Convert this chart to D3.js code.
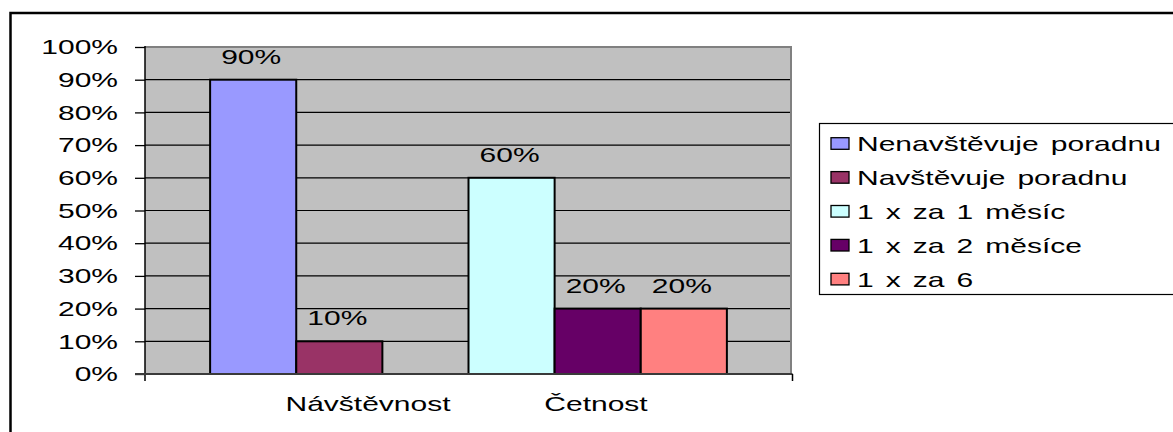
<!DOCTYPE html>
<html>
<head>
<meta charset="utf-8">
<script src="https://cdn.jsdelivr.net/npm/d3@7"></script>
<style>
  html, body { margin: 0; padding: 0; background: #fff; }
  svg { display: block; }
  text { font-family: "Liberation Sans", Arial, sans-serif; fill: #000; }
</style>
</head>
<body>
<svg id="chart" width="1173" height="432"></svg>
<script>
// Categories on the x axis
const categories = ["Návštěvnost", "Četnost"];
// One series per legend entry
const seriesNames = ["Nenavštěvuje poradnu", "Navštěvuje poradnu", "1 x za 1 měsíc", "1 x za 2 měsíce", "1 x za 6"];
// Value of each series (share of respondents)
const seriesValues = [0.9, 0.1, 0.6, 0.2, 0.2];
// Category each series belongs to
const seriesCategory = [0, 0, 1, 1, 1];
// Series fill colours
const seriesColors = ["#9999FF", "#993366", "#CCFFFF", "#660066", "#FF8080"];
// Y axis ticks
const yTicks = [0, 0.1, 0.2, 0.3, 0.4, 0.5, 0.6, 0.7, 0.8, 0.9, 1.0];

const SX = 1.5;       // horizontal text stretch
const FS = 20;        // font size
const fmt = d3.format(".0%");

const svg = d3.select("#chart");

// outer chart frame
svg.append("rect")
  .attr("x", 10.5).attr("y", 13).attr("width", 1300).attr("height", 600)
  .attr("fill", "#fff").attr("stroke", "#000").attr("stroke-width", 2.5);

const plot = { left: 145, right: 792, top: 47, bottom: 374 };

const y = d3.scaleLinear().domain([0, 1]).range([plot.bottom, plot.top]);

// three bar slots per category
const slotsPerCat = 3;
const slotIds = d3.range(categories.length * slotsPerCat);
const x = d3.scaleBand().domain(slotIds).range([plot.left, plot.right])
  .paddingInner(0).paddingOuter(0.756);

const within = seriesCategory.map((c, i) => seriesCategory.slice(0, i).filter(v => v === c).length);
const bars = seriesNames.map((name, i) => ({
  name, value: seriesValues[i], color: seriesColors[i],
  slot: seriesCategory[i] * slotsPerCat + within[i]
}));

// plot area background
svg.append("rect")
  .attr("x", plot.left).attr("y", plot.top)
  .attr("width", plot.right - plot.left).attr("height", plot.bottom - plot.top)
  .attr("fill", "#C0C0C0");

// gridlines
svg.append("g").selectAll("line").data(yTicks.filter(t => t > 0 && t < 1)).join("line")
  .attr("x1", plot.left).attr("x2", plot.right)
  .attr("y1", d => y(d)).attr("y2", d => y(d))
  .attr("stroke", "#000").attr("stroke-width", 1.2);

// plot area border (top and right)
svg.append("path")
  .attr("d", `M${plot.left},${y(1)}H${plot.right - 1}V${plot.bottom}`)
  .attr("fill", "none").attr("stroke", "#808080").attr("stroke-width", 2);

// bars
svg.append("g").selectAll("rect").data(bars).join("rect")
  .attr("x", d => x(d.slot)).attr("width", x.bandwidth())
  .attr("y", d => y(d.value)).attr("height", d => y(0) - y(d.value))
  .attr("fill", d => d.color).attr("stroke", "#000").attr("stroke-width", 2);

// y axis
const yAxis = svg.append("g").attr("transform", `translate(${plot.left},0)`)
  .call(d3.axisLeft(y).tickValues(yTicks).tickSize(10).tickFormat(""));
yAxis.select(".domain").remove();
yAxis.selectAll(".tick line").attr("stroke", "#000").attr("stroke-width", 1.3);
svg.append("line")
  .attr("x1", plot.left).attr("x2", plot.left)
  .attr("y1", plot.top - 1).attr("y2", plot.bottom + 7)
  .attr("stroke", "#000").attr("stroke-width", 1.5);

svg.append("g").selectAll("text").data(yTicks).join("text")
  .attr("transform", d => `translate(118,${y(d) + 7.2}) scale(${SX},1)`)
  .attr("text-anchor", "end").attr("font-size", FS)
  .text(d => fmt(d));

// x axis
svg.append("line")
  .attr("x1", plot.left - 10).attr("x2", plot.right + 0.5)
  .attr("y1", plot.bottom).attr("y2", plot.bottom)
  .attr("stroke", "#3a3a3a").attr("stroke-width", 2);
svg.append("line")
  .attr("x1", plot.right + 0.5).attr("x2", plot.right + 0.5)
  .attr("y1", plot.bottom).attr("y2", plot.bottom + 7)
  .attr("stroke", "#000").attr("stroke-width", 1.5);

// category labels
const xCat = d3.scalePoint().domain(categories).range([368, 596]);
svg.append("g").selectAll("text").data(categories).join("text")
  .attr("transform", d => `translate(${xCat(d)},411) scale(${SX},1)`)
  .attr("text-anchor", "middle").attr("font-size", FS)
  .text(d => d);

// value labels above bars
svg.append("g").selectAll("text").data(bars).join("text")
  .attr("transform", d => `translate(${x(d.slot) + x.bandwidth() / 2 - 2},${y(d.value) - 16}) scale(${SX},1)`)
  .attr("text-anchor", "middle").attr("font-size", FS)
  .text(d => fmt(d.value));

// legend
const legend = svg.append("g");
legend.append("rect")
  .attr("x", 819.5).attr("y", 123.5).attr("width", 500).attr("height", 171)
  .attr("fill", "#fff").attr("stroke", "#000").attr("stroke-width", 1.2);
const rowY = i => 143.5 + i * 33.9;
const items = legend.selectAll("g.item").data(bars).join("g").attr("class", "item");
items.append("rect")
  .attr("x", 831).attr("y", (d, i) => rowY(i) - 5.8)
  .attr("width", 18).attr("height", 11.6)
  .attr("fill", d => d.color).attr("stroke", "#000").attr("stroke-width", 1.3);
items.append("text")
  .attr("transform", (d, i) => `translate(857,${rowY(i) + 7.4}) scale(${SX},1)`)
  .attr("font-size", FS)
  .attr("word-spacing", 2.5)
  .text(d => d.name);
</script>
</body>
</html>
